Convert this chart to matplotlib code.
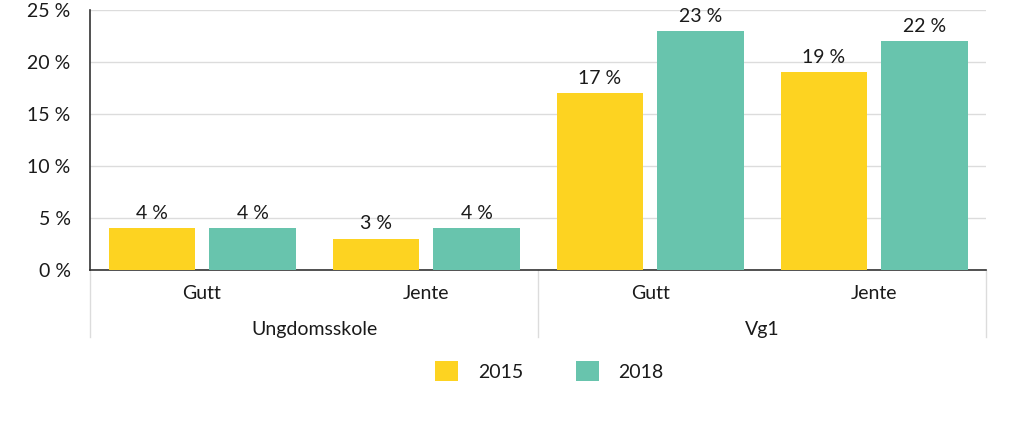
import matplotlib.pyplot as plt
import numpy as np

# data
groups = ["Ungdomsskole", "Vg1"]
categories = ["Gutt", "Jente", "Gutt", "Jente"]
years = ["2015", "2018"]
values_2015 = [4, 3, 17, 19]
values_2018 = [4, 4, 23, 22]

yellow = "#FDD321"
teal = "#68C4AD"
grid_col = "#DCDCDC"
text_col = "#1a1a1a"
fs = 14

plt.rcParams['font.family'] = ['Lato', 'DejaVu Sans']

fig = plt.figure(figsize=(10.23, 4.25), dpi=100)
ax = fig.add_axes([0.088, 0.365, 0.876, 0.6115])

x = np.arange(len(categories))
w = 0.385
off = 0.225
b1 = ax.bar(x - off, values_2015, w, color=yellow, label=years[0], zorder=3)
b2 = ax.bar(x + off, values_2018, w, color=teal, label=years[1], zorder=3)

for bars, vals in [(b1, values_2015), (b2, values_2018)]:
    for b, v in zip(bars, vals):
        ax.text(b.get_x() + b.get_width() / 2, v + 0.6, f"{v} %",
                ha="center", va="bottom", fontsize=fs, color=text_col)

ax.set_xlim(-0.5, len(categories) - 0.5)
ax.set_ylim(0, 25)
ax.set_yticks(range(0, 26, 5))
ax.set_yticklabels([f"{t} %" for t in range(0, 26, 5)], fontsize=fs, color=text_col)
ax.yaxis.grid(True, color=grid_col, linewidth=1, zorder=0)
ax.tick_params(axis="y", length=0, pad=14)
ax.set_xticks([])

for s in ["top", "right"]:
    ax.spines[s].set_visible(False)
ax.spines["left"].set_color("#333333")
ax.spines["bottom"].set_color("#333333")
ax.spines["left"].set_linewidth(1.2)
ax.spines["bottom"].set_linewidth(1.2)

# category labels below axis
trans = ax.get_xaxis_transform()
for xi, c in zip(x, categories):
    ax.text(xi, -0.092, c, transform=trans, ha="center", va="center",
            fontsize=fs, color=text_col)
for gi, g in enumerate(groups):
    ax.text(2 * gi + 0.5, -0.23, g, transform=trans, ha="center", va="center",
            fontsize=fs, color=text_col)

# separators
for xs in [-0.5, 1.5, 3.5]:
    ax.plot([xs, xs], [0, -0.26], transform=trans, color=grid_col,
            linewidth=1, clip_on=False)

leg = fig.legend(handles=[b1, b2], labels=years, loc="center",
                 bbox_to_anchor=(0.537, 0.127), ncol=2, frameon=False,
                 fontsize=fs, handlelength=1.2, handleheight=1.2,
                 columnspacing=2.7, handletextpad=1.0)
for t in leg.get_texts():
    t.set_color(text_col)

fig.savefig("out.png", dpi=100)
